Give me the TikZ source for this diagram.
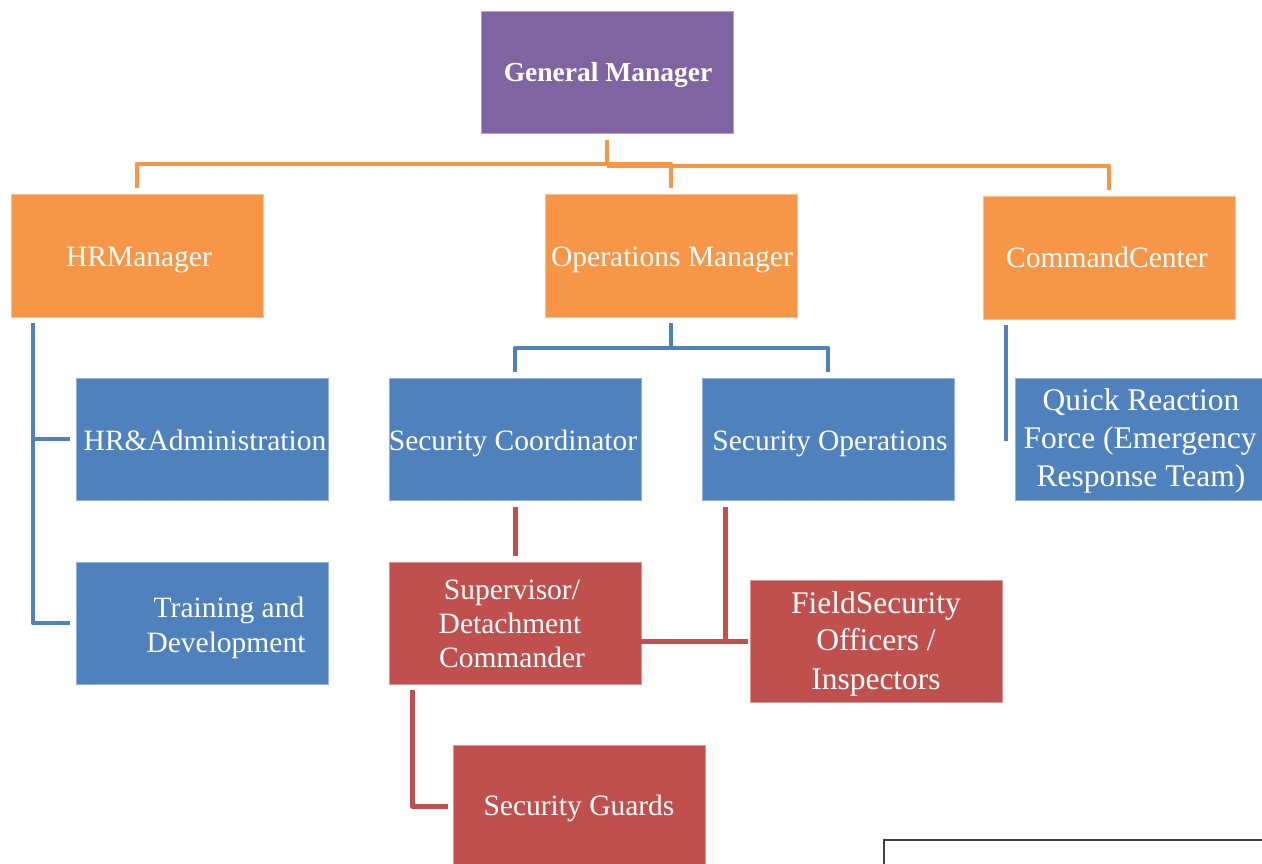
\documentclass[tikz,border=0pt]{standalone}
\usepackage{fontspec}
\setmainfont{Liberation Serif}
\usetikzlibrary{calc}
\definecolor{gmpurple}{HTML}{8064A2}
\definecolor{mgrorange}{HTML}{F79646}
\definecolor{unitblue}{HTML}{4F81BD}
\definecolor{fieldred}{HTML}{C0504D}
\tikzset{
  box/.style={rectangle, inner sep=0pt, outer sep=0pt, minimum width=252pt, minimum height=122pt, line width=0.8pt},
  purplebox/.style={box, fill=gmpurple, draw=gmpurple!60!white},
  orangebox/.style={box, fill=mgrorange, draw=mgrorange!60!white, minimum height=123pt},
  bluebox/.style={box, fill=unitblue, draw=unitblue!60!white},
  redbox/.style={box, fill=fieldred, draw=fieldred!60!white},
  lbl/.style={anchor=base, inner sep=0pt, text=white, font=\fontsize{29.5}{36}\selectfont},
  biglbl/.style={lbl, font=\fontsize{31.5}{38}\selectfont},
  boldlbl/.style={lbl, font=\fontsize{27.5}{33}\selectfont\bfseries},
  oline/.style={draw=mgrorange, line width=4.5pt, line join=round},
  bline/.style={draw=unitblue, line width=4.5pt, line join=round},
  rline/.style={draw=fieldred, line width=5pt, line join=round},
}
\begin{document}
\begin{tikzpicture}[x=1pt, y=-1pt]
\useasboundingbox (0,0) rectangle (1262,863);
\clip (0,0) rectangle (1262,863);

% boxes
\node[purplebox] (gm)  at (607,72)    {};
\node[orangebox] (hrm) at (137,255.5) {};
\node[orangebox] (opm) at (671,255.5) {};
\node[orangebox] (cmd) at (1109,257.5) {};
\node[bluebox]   (hra) at (202,439)   {};
\node[bluebox]   (sc)  at (515,439)   {};
\node[bluebox]   (so)  at (828,439)   {};
\node[bluebox]   (qrf) at (1141,439)  {};
\node[bluebox]   (trd) at (202,623)   {};
\node[redbox]    (sup) at (515,623)   {};
\node[redbox]    (fso) at (876,641)   {};
\node[redbox]    (sg)  at (579,806)   {};

% labels
\node[boldlbl] (gm-l)  at (608,81)  {General Manager};
\node[lbl] (hrm-l) at (139,266)  {HRManager};
\node[lbl] (opm-l) at (672,266)  {Operations Manager};
\node[lbl] (cmd-l) at (1107,267) {CommandCenter};
\node[lbl] (hra-l) at (205,450)  {HR\&Administration};
\node[lbl] (sc-l)  at (513,450)  {Security Coordinator};
\node[lbl] (so-l)  at (830,450)  {Security Operations};
\node[biglbl] (qrf-l1) at (1141,410) {Quick Reaction};
\node[biglbl] (qrf-l2) at (1140,448) {Force (Emergency};
\node[biglbl] (qrf-l3) at (1141,486) {Response Team)};
\node[lbl] (trd-l1) at (229,617) {Training and};
\node[lbl] (trd-l2) at (226,652) {Development};
\node[lbl] (sup-l1) at (512,599) {Supervisor/};
\node[lbl] (sup-l2) at (510,633) {Detachment};
\node[lbl] (sup-l3) at (512,667) {Commander};
\node[biglbl] (fso-l1) at (876,613) {FieldSecurity};
\node[biglbl] (fso-l2) at (876,650) {Officers /};
\node[biglbl] (fso-l3) at (876,689) {Inspectors};
\node[lbl] (sg-l)   at (579,815) {Security Guards};

% trunk lines beside the boxes
\coordinate (hrtrunk)  at ($(hrm.south west)+(22,0)$);
\coordinate (cmdtrunk) at ($(cmd.south west)+(23,0)$);
\coordinate (sotrunk)  at ($(so.south west)+(23,0)$);

% general manager to managers
\draw[oline] ($(gm.south)+(0,7)$) -- ($(gm.south)+(0,31)$);
\draw[oline] ($(hrm.north)+(0,-6)$) |- ($(opm.north)+(0,-30)$) -- ($(opm.north)+(0,-6)$);
\draw[oline] ($(gm.south)+(0,33)$) -| ($(cmd.north)+(0,-6)$);

% HR branch
\draw[bline] ($(hrtrunk)+(0,6)$) |- ($(trd.west)+(-6,0)$);
\draw[bline] (hrtrunk |- hra.west) -- ($(hra.west)+(-6,0)$);

% operations branch
\draw[bline] ($(opm.south)+(0,6)$) -- ($(opm.south)+(0,31)$);
\draw[bline] ($(sc.north)+(0,-6)$) |- ($(so.north)+(0,-30)$) -- ($(so.north)+(0,-6)$);

% command center branch
\draw[bline] ($(cmdtrunk)+(0,6)$) -- ($(cmdtrunk |- qrf.west)+(0,2)$);

% field level
\draw[rline] ($(sc.south)+(0,7)$) -- ($(sup.north)+(0,-6)$);
\draw[rline] ($(sotrunk)+(0,7)$) |- ($(fso.west)+(-2,0)$);
\draw[rline] (sup.east |- fso.west) -- (sotrunk |- fso.west);
\draw[rline] ($(sup.south west)+(23,6)$) |- ($(sg.west)+(-5,0)$);

% frame at the lower right
\draw[draw=black!75, line width=1.5pt] (884,870) -- (884,840) -- (1270,840);
\end{tikzpicture}
\end{document}
